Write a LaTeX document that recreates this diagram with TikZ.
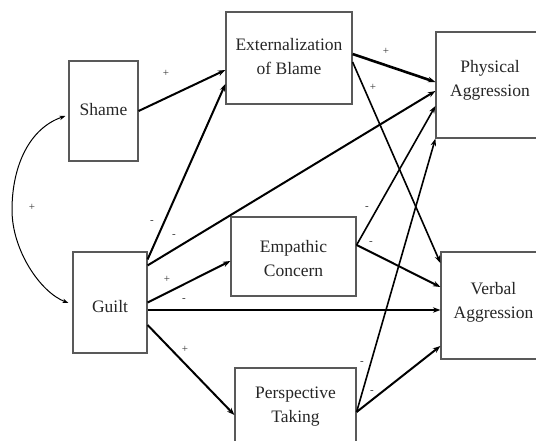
\documentclass[tikz,border=0pt]{standalone}
\usepackage{fontspec}
\setmainfont{Liberation Serif}
\usetikzlibrary{arrows.meta}
\begin{document}
\begin{tikzpicture}[x=1pt,y=1pt,
  box/.style={draw=black!65, line width=1.2pt, inner sep=0pt, anchor=center},
  txt/.style={font=\fontsize{17.5}{24}\selectfont, align=center, inner sep=0pt, text=black!85},
  lab/.style={font=\fontsize{11}{12}\selectfont, inner sep=0pt, text=black!80},
  arr/.style={-{Stealth[length=7.5pt,width=5.5pt]}, line width=2pt},
  arrthin/.style={-{Stealth[length=7.5pt,width=5.5pt]}, line width=1.6pt},
  arrthick/.style={-{Stealth[length=7.5pt,width=5.5pt]}, line width=2.6pt},
  arcline/.style={{Stealth[length=6pt,width=4.5pt]}-{Stealth[length=6pt,width=4.5pt]}, line width=1pt}
]
\useasboundingbox (0,0) rectangle (536,440);
\clip (0,0) rectangle (536,440);
% boxes
\node[box, minimum width=69pt, minimum height=100pt] (shame) at (103.5,329) {};
\node[box, minimum width=126pt, minimum height=92pt] (ext) at (289,382) {};
\node[box, minimum width=110pt, minimum height=106pt] (phys) at (491,355) {};
\node[box, minimum width=105pt, minimum height=107pt] (verb) at (493.5,134.5) {};
\node[box, minimum width=74pt, minimum height=101pt] (guilt) at (110,137.5) {};
\node[box, minimum width=125pt, minimum height=79pt] (emp) at (293.5,183.5) {};
\node[box, minimum width=121pt, minimum height=76pt] (persp) at (295.5,34) {};
% texts
\node[txt] (shamet) at (103.5,330) {Shame};
\node[txt] (extt) at (289,383.5) {Externalization\\of Blame};
\node[txt] (physt) at (490,359.5) {Physical\\Aggression};
\node[txt] (verbt) at (493.5,137.5) {Verbal\\Aggression};
\node[txt] (guiltt) at (110,133) {Guilt};
\node[txt] (empt) at (293.5,181) {Empathic\\Concern};
\node[txt] (perspt) at (295.5,33.5) {Perspective\\Taking};
% connectors
\draw[arr] (shame.east) -- ([yshift=-12pt]ext.west);
\draw[arcline] ([xshift=-3pt,yshift=-5pt]shame.west) .. controls (30,312) and (12,275) .. (12,230) coordinate (arcmid)
   .. controls (12,190) and (40,148) .. ([xshift=-4pt,yshift=-0.5pt]guilt.west);
\draw[arr] ([yshift=-8pt]guilt.north east) -- ([yshift=-26pt]ext.west);
\draw[arr] ([yshift=-14pt]guilt.north east) -- ([yshift=-6pt]phys.west);
\draw[arr] (guilt.east) -- ([yshift=-4.5pt]emp.west);
\draw[arrthick] ([yshift=-7.5pt]guilt.east) -- ([yshift=-7.5pt]guilt.east -| verb.west);
\draw[arr] ([yshift=-22.5pt]guilt.east) -- ([yshift=-9pt]persp.west);
\draw[arrthick] ([yshift=4pt]ext.east) -- ([yshift=3pt]phys.west);
\draw[arrthin] ([yshift=-4pt]ext.east) -- ([yshift=42.5pt]verb.west);
\draw[arrthin] ([yshift=11.5pt]emp.east) -- ([yshift=-21pt]phys.west);
\draw[arr] ([yshift=11.5pt]emp.east) -- ([yshift=18.5pt]verb.west);
\draw[arrthin] ([yshift=-6pt]persp.east) -- (phys.south west);
\draw[arr] ([yshift=-6pt]persp.east) -- ([yshift=-40.5pt]verb.west);
% labels
\node[lab] (l1) at (166,367) {+};
\node[lab] (l2) at (32,233) {+};
\node[lab] (l3) at (152,218) {-};
\node[lab] (l4) at (174,204) {-};
\node[lab] (l5) at (167,161) {+};
\node[lab] (l6) at (184,140) {-};
\node[lab] (l7) at (185,91) {+};
\node[lab] (l8) at (386,389) {+};
\node[lab] (l9) at (373,353) {+};
\node[lab] (l10) at (367,232) {-};
\node[lab] (l11) at (371,197) {-};
\node[lab] (l12) at (362,77) {-};
\node[lab] (l13) at (372,48) {-};
\end{tikzpicture}
\end{document}
